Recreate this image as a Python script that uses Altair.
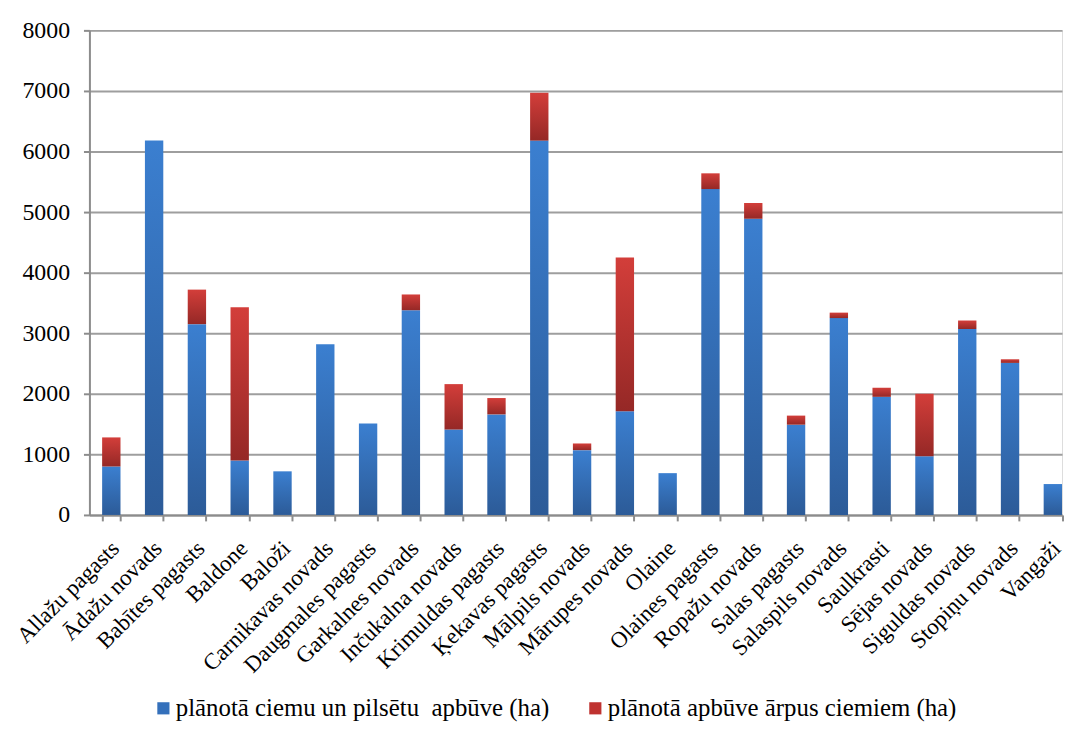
import altair as alt
import pandas as pd

categories = ["Allažu pagasts", "Ādažu novads", "Babītes pagasts", "Baldone", "Baloži",
              "Carnikavas novads", "Daugmales pagasts", "Garkalnes novads", "Inčukalna novads",
              "Krimuldas pagasts", "Ķekavas pagasts", "Mālpils novads", "Mārupes novads",
              "Olaine", "Olaines pagasts", "Ropažu novads", "Salas pagasts", "Salaspils novads",
              "Saulkrasti", "Sējas novads", "Siguldas novads", "Stopiņu novads", "Vangaži"]
villages = [800, 6180, 3150, 900, 720, 2820, 1510, 3380, 1410, 1660, 6180, 1070, 1710,
            690, 5380, 4890, 1490, 3250, 1950, 970, 3070, 2510, 510]
outside = [480, 0, 570, 2530, 0, 0, 0, 260, 750, 270, 790, 110, 2540,
           0, 260, 260, 150, 90, 150, 1030, 140, 60, 0]
series_names = ["plānotā ciemu un pilsētu\u00a0 apbūve (ha)", "plānotā apbūve ārpus ciemiem (ha)"]
y_ticks = [0, 1000, 2000, 3000, 4000, 5000, 6000, 7000, 8000]

df = pd.DataFrame({"cat": categories, "villages": villages, "outside": outside})
legend_df = pd.DataFrame({"series": series_names})

FONT = "Liberation Serif"

blue_grad = {"gradient": "linear", "x1": 0, "y1": 0, "x2": 0, "y2": 1,
             "stops": [{"offset": 0, "color": "#3b7fd0"}, {"offset": 1, "color": "#2c5b98"}]}
red_grad = {"gradient": "linear", "x1": 0, "y1": 0, "x2": 0, "y2": 1,
            "stops": [{"offset": 0, "color": "#d33e3a"}, {"offset": 1, "color": "#952826"}]}

x_enc = alt.X("cat:N", sort=categories, title=None,
              scale=alt.Scale(paddingInner=0.571, paddingOuter=0.1485, align=1),
              axis=alt.Axis(labelAngle=-45, labelFont=FONT, labelFontSize=23, labelColor="#000000",
                            tickBand="extent", tickSize=6, tickColor="#8c8c8c", tickWidth=2,
                            domainColor="#8c8c8c", domainWidth=2, labelPadding=16, labelOffset=-4,
                            grid=False, labelLimit=400, labelBound=False))
y_scale = alt.Scale(domain=[0, 8000], nice=False)
y_axis = alt.Axis(values=y_ticks, format="d", labelFont=FONT, labelFontSize=24, labelColor="#000000",
                  tickSize=6, tickColor="#8c8c8c", tickWidth=2, domainColor="#8c8c8c",
                  domainWidth=2, labelPadding=14, grid=True, gridColor="#9e9e9e", gridWidth=2)

base = alt.Chart(df)

blue_bars = base.mark_bar(color=blue_grad).encode(
    x=x_enc,
    y=alt.Y("villages:Q", scale=y_scale, axis=y_axis, title=None),
)

red_bars = base.transform_filter("datum.outside > 0").transform_calculate(
    total="datum.villages + datum.outside"
).mark_bar(color=red_grad).encode(
    x=x_enc,
    y=alt.Y("villages:Q", scale=y_scale, axis=y_axis, title=None),
    y2="total:Q",
)

legend_layer = alt.Chart(legend_df).mark_square(opacity=0).encode(
    color=alt.Color("series:N", sort=series_names,
                    scale=alt.Scale(domain=series_names, range=["#3470bb", "#bf3230"]),
                    legend=alt.Legend(title=None, orient="none", legendX=62, legendY=670,
                                      direction="horizontal", columns=2, columnPadding=33,
                                      symbolType="square", symbolSize=150, symbolOpacity=1,
                                      symbolStrokeWidth=0, labelFont=FONT, labelFontSize=25,
                                      labelColor="#000000", labelOffset=0, labelLimit=500))
)

chart = alt.layer(blue_bars, red_bars, legend_layer).properties(
    width=979.5, height=488, autosize="none",
    padding={"left": 82, "top": 20, "right": 3, "bottom": 207},
).configure_view(stroke=None).configure(background="#ffffff")

chart.save("out.html", embed_options={"renderer": "svg", "actions": False})
